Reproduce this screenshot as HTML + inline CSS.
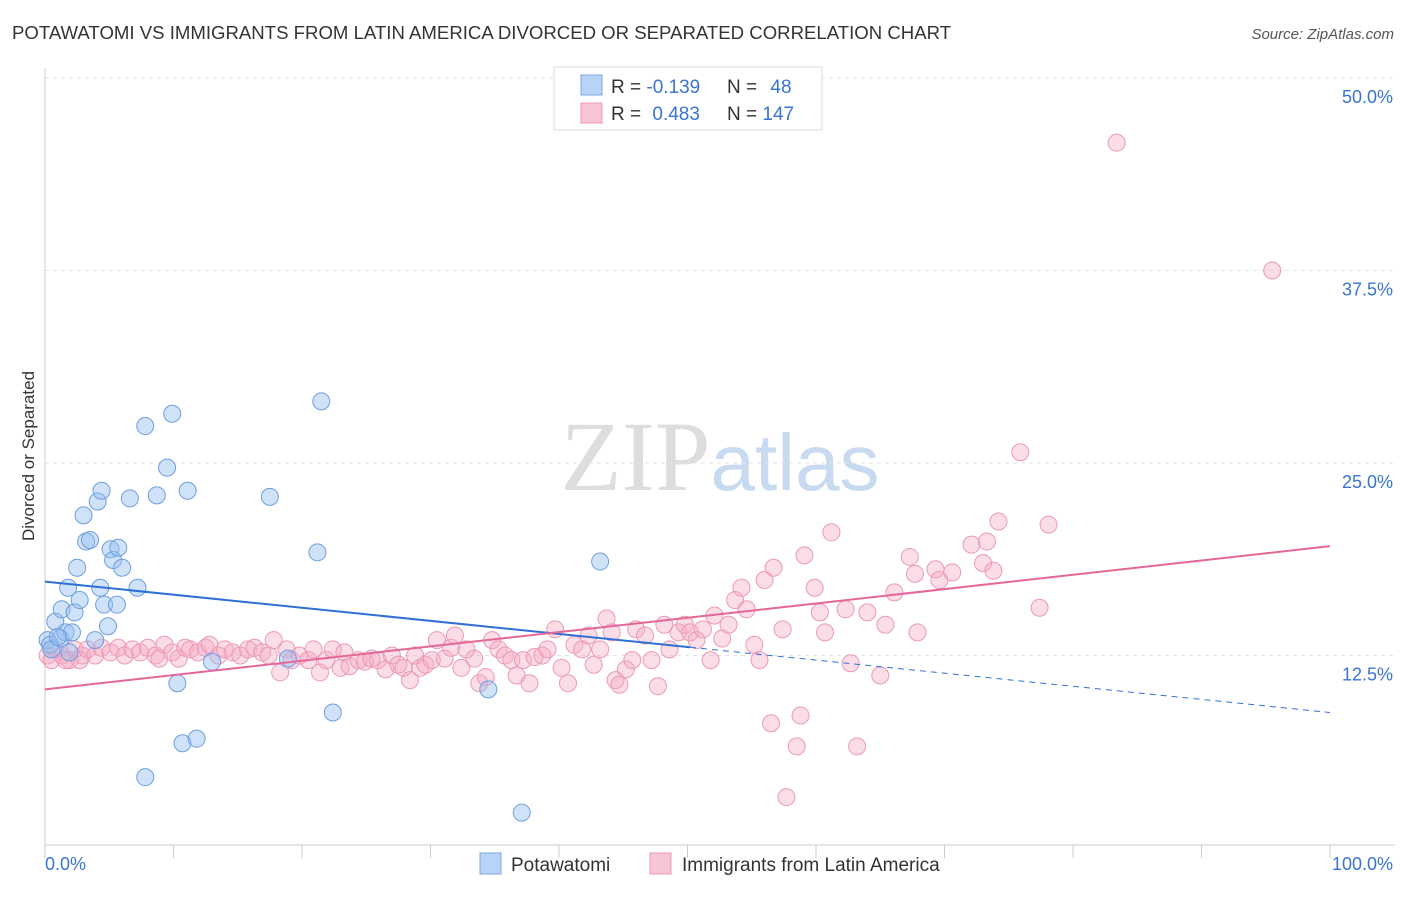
<!DOCTYPE html>
<html><head><meta charset="utf-8"><style>
body{margin:0;background:#fff;font-family:"Liberation Sans",sans-serif}
</style></head><body>
<svg id="chart" width="1406" height="892" xmlns="http://www.w3.org/2000/svg" font-family="Liberation Sans, sans-serif">
<text x="12" y="39" font-size="18.6" fill="#333">POTAWATOMI VS IMMIGRANTS FROM LATIN AMERICA DIVORCED OR SEPARATED CORRELATION CHART</text>
<text x="1394" y="39" font-size="15" fill="#555" text-anchor="end" font-style="italic">Source: ZipAtlas.com</text>
<text x="720" y="490" font-size="100" text-anchor="middle" fill="#ddd" font-family="Liberation Serif, serif">ZIP<tspan fill="#c8daf0" font-family="Liberation Sans, sans-serif" font-size="80">atlas</tspan></text>
<text transform="translate(34,456) rotate(-90)" font-size="17" fill="#333" text-anchor="middle">Divorced or Separated</text>
<g id="grid"></g><g id="axes"></g><g id="pts"></g><g id="lines"></g>
<g>
<rect x="554" y="67" width="268" height="63" fill="#fff" stroke="#ddd"/>
<rect x="581" y="75" width="21" height="20" fill="#b8d3f5" stroke="#7aa8e0"/>
<rect x="581" y="103" width="21" height="20" fill="#f8c5d5" stroke="#eb98b5"/>
<text x="611" y="93" font-size="19" fill="#333">R = <tspan fill="#3a74d0">-0.139</tspan></text>
<text x="727" y="93" font-size="19" fill="#333">N = <tspan fill="#3a74d0" dx="8">48</tspan></text>
<text x="611" y="120" font-size="19" fill="#333">R = <tspan fill="#3a74d0" dx="6">0.483</tspan></text>
<text x="727" y="120" font-size="19" fill="#333">N = <tspan fill="#3a74d0">147</tspan></text>
</g>
<g>
<rect x="480" y="853" width="21" height="21" fill="#b8d3f5" stroke="#7aa8e0"/>
<text x="511" y="871" font-size="19" fill="#333">Potawatomi</text>
<rect x="650" y="853" width="21" height="21" fill="#f8c5d5" stroke="#eb98b5"/>
<text x="682" y="871" font-size="19" fill="#333">Immigrants from Latin America</text>
</g>
</svg>
<script>
const blueX=[0.2,0.4,0.8,1.2,1.3,1.6,1.8,1.9,2.1,2.3,2.5,2.7,3.0,3.2,3.5,3.9,4.1,4.3,4.4,4.6,4.9,5.1,5.3,5.6,5.7,6.0,6.6,7.2,7.8,7.8,8.7,9.5,9.9,10.3,10.7,11.1,11.8,13.0,17.5,18.9,21.2,21.5,22.4,34.5,37.1,43.2,0.5,1.0];
const blueY=[13.5,13.2,14.7,13.6,15.5,14.0,16.9,12.7,14.0,15.3,18.2,16.1,21.6,19.9,20.0,13.5,22.5,16.9,23.2,15.8,14.4,19.4,18.7,15.8,19.5,18.2,22.7,16.9,27.4,4.6,22.9,24.7,28.2,10.7,6.8,23.2,7.1,12.1,22.8,12.3,19.2,29.0,8.8,10.3,2.3,18.6,12.9,13.7];
const pinkX=[0.2,0.8,1.3,1.9,2.3,2.9,3.3,3.9,4.4,5.1,5.7,6.2,6.8,7.4,8.0,8.6,8.9,9.3,9.9,10.4,10.9,11.3,11.9,12.5,12.8,13.5,14.0,14.6,15.2,15.8,16.3,16.9,17.4,17.8,18.3,18.8,19.2,19.8,20.5,20.9,21.4,21.9,22.4,23.0,23.3,23.7,24.4,24.9,25.4,25.9,26.5,27.0,27.5,27.9,28.4,28.8,29.2,29.6,30.1,30.5,31.1,31.6,31.9,32.4,32.8,33.4,33.8,34.3,34.8,35.3,35.8,36.3,36.7,37.2,37.7,38.1,38.7,39.1,39.7,40.2,40.7,41.2,41.8,42.3,42.7,43.2,43.7,44.1,44.4,44.7,45.2,45.7,46.0,46.7,47.2,47.7,48.2,48.6,49.3,49.8,50.2,50.7,51.2,51.8,52.1,52.7,53.2,53.7,54.2,54.6,55.2,55.6,56.0,56.5,56.7,57.4,57.7,58.5,58.8,59.1,59.9,60.3,60.7,61.2,62.3,62.7,63.2,64.0,65.0,65.4,66.1,67.3,67.7,67.9,69.3,69.6,70.6,72.1,73.0,73.3,73.8,74.2,75.9,77.4,78.1,83.4,95.5,0.5,1.6,2.7];
const pinkY=[12.5,12.9,12.5,12.2,12.9,12.5,12.9,12.5,13.0,12.7,13.0,12.5,12.9,12.7,13.0,12.5,12.3,13.2,12.7,12.3,13.0,12.9,12.7,13.0,13.2,12.5,12.9,12.7,12.5,12.9,13.0,12.7,12.5,13.5,11.4,12.9,12.2,12.5,12.2,12.9,11.4,12.2,12.9,11.7,12.7,11.8,12.2,12.1,12.3,12.2,11.6,12.5,11.9,11.7,10.9,12.5,11.7,11.9,12.2,13.5,12.3,13.0,13.8,11.7,12.9,12.3,10.7,11.1,13.5,12.9,12.5,12.2,11.2,12.2,10.7,12.4,12.5,12.9,14.2,11.7,10.7,13.2,12.9,13.8,11.9,12.9,14.9,14.0,10.9,10.6,11.6,12.2,14.2,13.8,12.2,10.5,14.5,12.9,14.0,14.5,14.0,13.5,14.2,12.2,15.1,13.6,14.5,16.1,16.9,15.5,13.2,12.2,17.4,8.1,18.2,14.2,3.3,6.6,8.6,19.0,16.9,15.3,14.0,20.5,15.5,12.0,6.6,15.3,11.2,14.5,16.6,18.9,17.8,14.0,18.1,17.4,17.9,19.7,18.5,19.9,18.0,21.2,25.7,15.6,21.0,45.8,37.5,12.2,12.2,12.2];
const yTicks=[12.5,25.0,37.5,50.0];
const xTicks=[0,10,20,30,40,50,60,70,80,90,100];
const blueLine=[17.3,8.8], blueSolidEnd=50.2;
const pinkLine=[10.3,19.6];
const NS='http://www.w3.org/2000/svg';
const X=v=>45+v*12.85, Y=v=>848-v*15.4;
function mk(tag,at,parent){const e=document.createElementNS(NS,tag);for(const k in at)e.setAttribute(k,at[k]);document.getElementById(parent).appendChild(e);return e;}
yTicks.forEach(t=>{
 const l=mk('line',{x1:45,x2:1395,y1:Y(t),y2:Y(t),stroke:'#e2e2e2','stroke-dasharray':'4,4'},'grid');
 
 
 const tx=mk('text',{x:1393,y:Y(t)+25,'font-size':18,fill:'#3a74d0','text-anchor':'end'},'grid');
 tx.textContent=t.toFixed(1)+'%';
 
 
});
const ax=mk('line',{x1:45,x2:1395,y1:845,y2:845,stroke:'#ccc'},'axes');


const ay=mk('line',{x1:45,x2:45,y1:68,y2:845,stroke:'#ccc'},'axes');


xTicks.forEach(t=>{
 const l=mk('line',{x1:X(t),x2:X(t),y1:845,y2:858,stroke:'#ccc'},'axes');
 
 
});
[[0,'0.0%','start',45],[100,'100.0%','end',1393]].forEach(a=>{
 const tx=mk('text',{x:a[3],y:870,'font-size':18,fill:'#3a74d0','text-anchor':a[2]},'axes');
 tx.textContent=a[1];
 
 
});
pinkX.forEach((x,i)=>{
 const c=mk('circle',{cx:X(x),cy:Y(pinkY[i]),r:8.5,fill:'rgba(245,170,195,0.4)',stroke:'#eb9ab6','stroke-width':1},'pts');
 
 
});
blueX.forEach((x,i)=>{
 const c=mk('circle',{cx:X(x),cy:Y(blueY[i]),r:8.5,fill:'rgba(150,190,240,0.45)',stroke:'#6c9fe0','stroke-width':1},'pts');
 
 
});
const by=x=>blueLine[0]+(blueLine[1]-blueLine[0])*x/100;
const b1=mk('line',{x1:X(0),y1:Y(by(0)),x2:X(blueSolidEnd),y2:Y(by(blueSolidEnd)),stroke:'#2f6fd6','stroke-width':2},'lines');


const b2=mk('line',{x1:X(blueSolidEnd),y1:Y(by(blueSolidEnd)),x2:X(100),y2:Y(by(100)),stroke:'#2f6fd6','stroke-width':1,'stroke-dasharray':'6,5'},'lines');


const p1=mk('line',{x1:X(0),y1:Y(pinkLine[0]),x2:X(100),y2:Y(pinkLine[1]),stroke:'#e4679a','stroke-width':2},'lines');


</script>
</body></html>
